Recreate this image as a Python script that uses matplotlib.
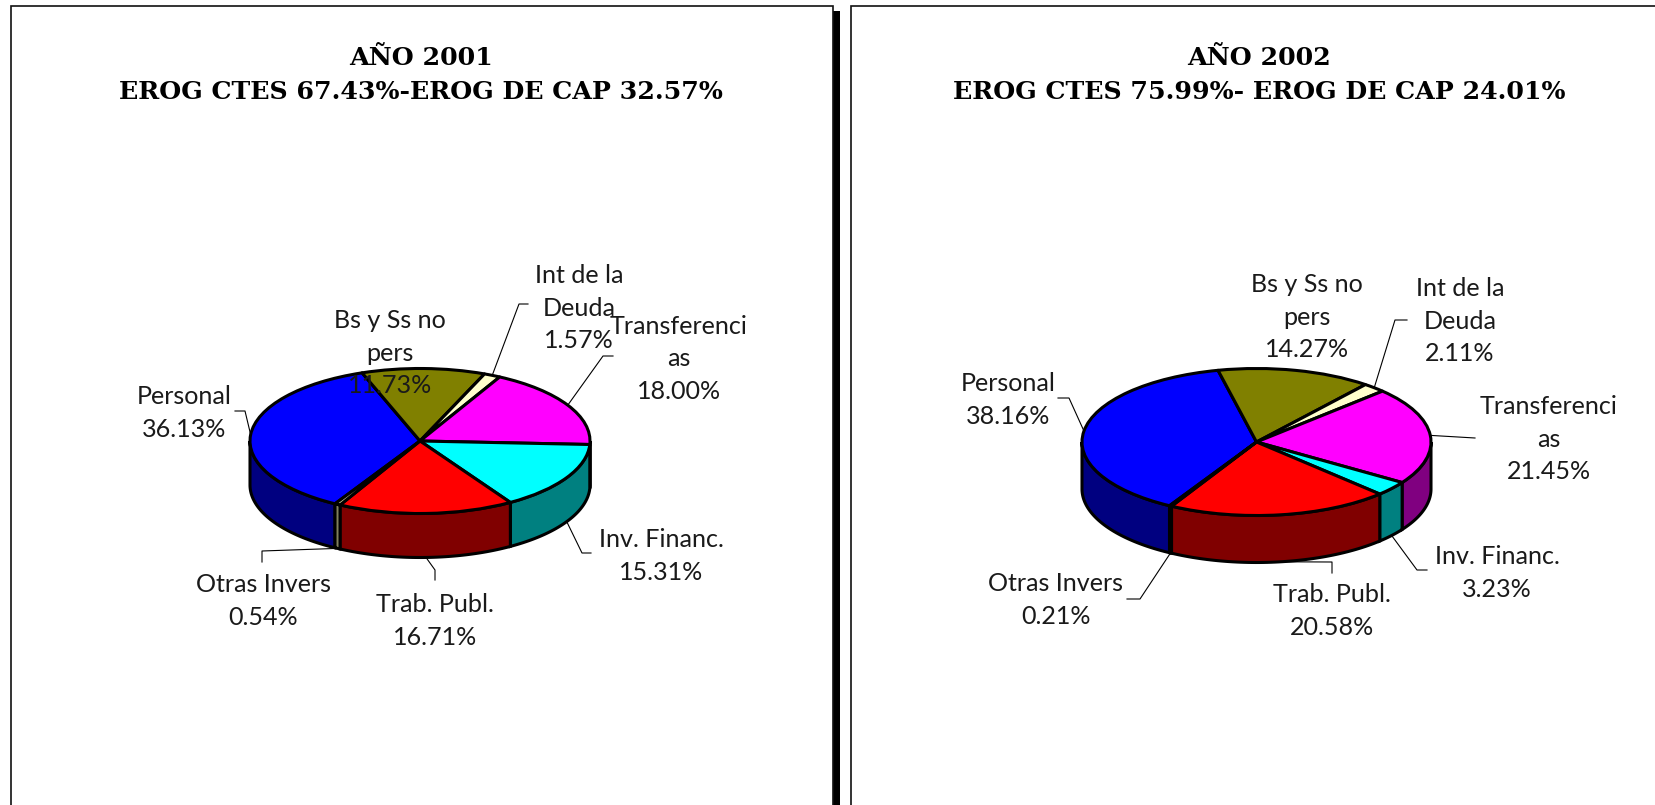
import numpy as np
import matplotlib
matplotlib.use('Agg')
import matplotlib.pyplot as plt

W, H = 1655, 805

names = ['Personal', 'Bs y Ss no\npers', 'Int de la\nDeuda', 'Transferenci\nas',
         'Inv. Financ.', 'Trab. Publ.', 'Otras Invers']
top_colors = ['#0000FF', '#808000', '#FFFFCC', '#FF00FF', '#00FFFF', '#FF0000', '#CCCC99']
side_colors = ['#000080', '#404000', '#808066', '#800080', '#008080', '#800000', '#808060']

values_2001 = [36.13, 11.73, 1.57, 18.00, 15.31, 16.71, 0.54]
values_2002 = [38.16, 14.27, 2.11, 21.45, 3.23, 20.58, 0.21]

title_2001 = 'AÑO 2001\nEROG CTES 67.43%-EROG DE CAP 32.57%'
title_2002 = 'AÑO 2002\nEROG CTES 75.99%- EROG DE CAP 24.01%'

# label centres, leader elbow and leader end, in pixels
label_pos_2001 = [(184, 413), (390, 353), (579, 308), (679, 359), (661, 556), (435, 621), (263, 601)]
elbow_2001 = [(245, 411), None, (519, 304), (603, 356), (582, 553), (435, 570), (262, 551)]
end_2001 = [(235, 411), None, (528, 304), (613, 356), (591, 553), (435, 580), (262, 562)]

label_pos_2002 = [(1008, 400), (1307, 317), (1460, 321), (1549, 439), (1497, 573), (1332, 611), (1056, 600)]
elbow_2002 = [(1069, 398), None, (1395, 320), (1475, 438), (1417, 570), (1332, 562), (1140, 599)]
end_2002 = [(1058, 398), None, (1407, 320), (1475, 438), (1427, 570), (1332, 573), (1127, 599)]

label_font = ['Lato', 'DejaVu Sans']
label_size = 18.1
title_size = 18.2
edge = 2.2

fig = plt.figure(figsize=(W / 100, H / 100), dpi=100)
bg = fig.add_axes([0, 0, 1, 1])
bg.set_xlim(0, W)
bg.set_ylim(H, 0)
bg.axis('off')


def draw_pie(values, start, cx, cy, rx, ry, depth, title, tx, label_pos, elbows, ends):
    d = depth / ry
    ax = fig.add_axes([(cx - rx) / W, 1 - (cy + ry + depth) / H, 2 * rx / W, (2 * ry + depth) / H])
    ax.set_zorder(1)
    wedges, _ = ax.pie(values, colors=top_colors, startangle=start, counterclock=False, radius=1,
                       wedgeprops=dict(edgecolor='black', linewidth=edge, joinstyle='round', zorder=3))
    ax.set_aspect('auto')
    ax.set_xlim(-1, 1)
    ax.set_ylim(-1 - d, 1)
    ax.axis('off')

    for i, w in enumerate(wedges):
        a1, a2 = w.theta1 % 360, w.theta2 % 360
        if a2 <= a1:
            a2 += 360
        # the side wall only shows on the lower half of the rim
        for lo, hi in [(180, 360), (540, 720)]:
            s, e = max(a1, lo), min(a2, hi)
            if e <= s:
                continue
            t = np.radians(np.linspace(s, e, 60))
            xs = np.r_[np.cos(t), np.cos(t[::-1])]
            ys = np.r_[np.sin(t), np.sin(t[::-1]) - d]
            ax.fill(xs, ys, facecolor=side_colors[i], edgecolor='black', linewidth=edge, zorder=2,
                    clip_on=False)

        # leader lines start at the middle of each slice
        if elbows[i] is not None:
            mid = np.radians((a1 + a2) / 2)
            px = cx + rx * np.cos(mid)
            py = cy - ry * np.sin(mid)
            if np.sin(mid) < -0.2:
                py += depth
            bg.plot([px, elbows[i][0], ends[i][0]], [py, elbows[i][1], ends[i][1]], color='black', lw=0.8)

        txt = '{}\n{:.2f}%'.format(names[i], values[i])
        fig.text(label_pos[i][0] / W, 1 - label_pos[i][1] / H, txt, ha='center', va='center', family=label_font,
                 fontsize=label_size, linespacing=1.48, color='#1a1a1a', zorder=5)

    fig.text(tx / W, 1 - 75 / H, title, ha='center', va='center', family='DejaVu Serif', weight='bold',
             fontsize=title_size, linespacing=1.53, color='black', zorder=5)


draw_pie(values_2001, 240.0, 420, 441, 170, 72.5, 44, title_2001, 421, label_pos_2001, elbow_2001, end_2001)
draw_pie(values_2002, 240.1, 1256.5, 442, 174.5, 73.5, 47, title_2002, 1259, label_pos_2002, elbow_2002, end_2002)

# panel frames and the black shadow between them
bg.plot([11, 11, 833, 833], [H, 6.5, 6.5, H], color='#111111', lw=1.2, solid_joinstyle='miter')
bg.plot([851, 851, W], [H, 6.5, 6.5], color='#111111', lw=1.2, solid_joinstyle='miter')
bg.fill_between([833, 840], 11, H, color='black', lw=0)

fig.savefig('out.png', dpi=100, facecolor='white')
